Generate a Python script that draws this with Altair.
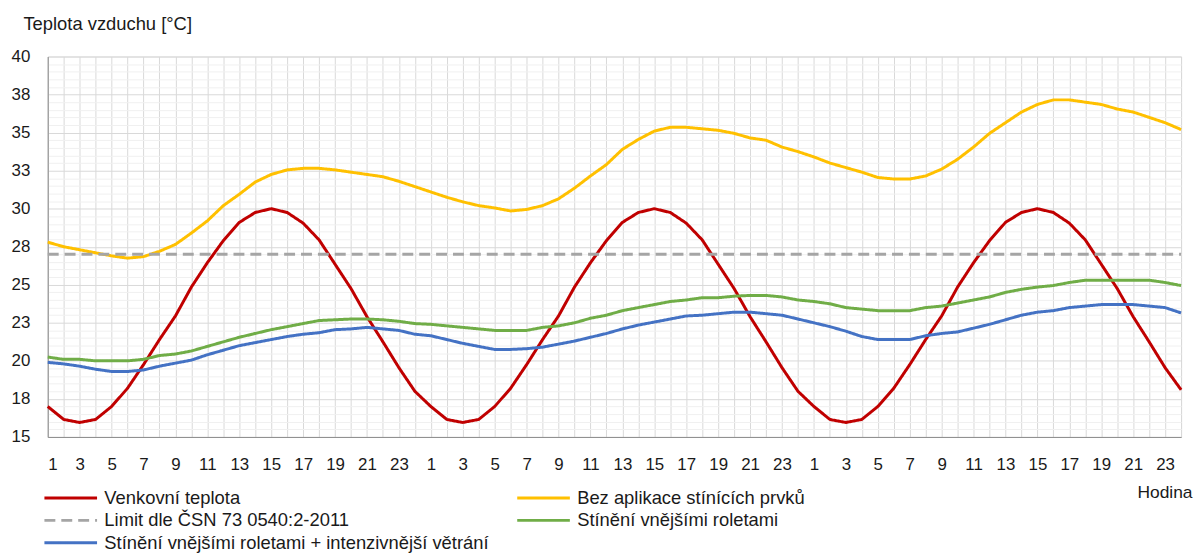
import altair as alt
import pandas as pd

hours = list(range(1, 73))

venkovni = [17.0, 16.15, 15.95, 16.15, 17.0, 18.2, 19.75, 21.4, 22.95, 24.85, 26.45, 27.9,
            29.1, 29.75, 30.0, 29.75, 29.05, 27.95, 26.35, 24.75, 22.9, 21.25, 19.55, 18.0,
            17.0, 16.15, 15.95, 16.15, 17.0, 18.2, 19.75, 21.4, 22.95, 24.85, 26.45, 27.9,
            29.1, 29.75, 30.0, 29.75, 29.05, 27.95, 26.35, 24.75, 22.9, 21.25, 19.55, 18.0,
            17.0, 16.15, 15.95, 16.15, 17.0, 18.2, 19.75, 21.4, 22.95, 24.85, 26.45, 27.9,
            29.1, 29.75, 30.0, 29.75, 29.05, 27.95, 26.35, 24.75, 22.9, 21.25, 19.55, 18.1]

bez_stineni = [27.8, 27.5, 27.3, 27.1, 26.9, 26.75, 26.85, 27.2, 27.65, 28.4, 29.2, 30.2,
               30.95, 31.75, 32.25, 32.55, 32.65, 32.65, 32.55, 32.4, 32.25, 32.1, 31.8, 31.45,
               31.1, 30.75, 30.45, 30.2, 30.05, 29.85, 29.95, 30.2, 30.65, 31.35, 32.15, 32.9,
               33.9, 34.55, 35.1, 35.35, 35.35, 35.25, 35.15, 34.95, 34.65, 34.5, 34.05, 33.75,
               33.4, 33.0, 32.7, 32.4, 32.05, 31.95, 31.95, 32.15, 32.6, 33.25, 34.05, 34.95,
               35.65, 36.35, 36.85, 37.15, 37.15, 37.0, 36.85, 36.55, 36.35, 36.0, 35.65, 35.2]

limit = [27.0] * 72

rolety = [20.25, 20.1, 20.1, 20.0, 20.0, 20.0, 20.1, 20.35, 20.45, 20.65, 20.95, 21.25,
          21.55, 21.8, 22.05, 22.25, 22.45, 22.65, 22.7, 22.75, 22.75, 22.7, 22.6, 22.45,
          22.4, 22.3, 22.2, 22.1, 22.0, 22.0, 22.0, 22.2, 22.3, 22.5, 22.8, 23.0,
          23.3, 23.5, 23.7, 23.9, 24.0, 24.15, 24.15, 24.25, 24.3, 24.3, 24.2, 24.0,
          23.9, 23.75, 23.5, 23.4, 23.3, 23.3, 23.3, 23.5, 23.6, 23.8, 24.0, 24.2,
          24.5, 24.7, 24.85, 24.95, 25.15, 25.3, 25.3, 25.3, 25.3, 25.3, 25.15, 24.95]

rolety_vetrani = [19.9, 19.8, 19.65, 19.45, 19.3, 19.3, 19.4, 19.65, 19.85, 20.05, 20.4, 20.7,
                  21.0, 21.2, 21.4, 21.6, 21.75, 21.85, 22.05, 22.1, 22.2, 22.1, 22.0, 21.75,
                  21.65, 21.4, 21.15, 20.95, 20.75, 20.75, 20.8, 20.9, 21.1, 21.3, 21.55, 21.8,
                  22.1, 22.35, 22.55, 22.75, 22.95, 23.0, 23.1, 23.2, 23.2, 23.1, 23.0, 22.75,
                  22.5, 22.25, 21.95, 21.6, 21.4, 21.4, 21.4, 21.65, 21.8, 21.9, 22.15, 22.4,
                  22.7, 23.0, 23.2, 23.3, 23.5, 23.6, 23.7, 23.7, 23.7, 23.6, 23.5, 23.15]

series_names = [
    "Venkovní teplota",
    "Bez aplikace stínících prvků",
    "Limit dle ČSN 73 0540:2-2011",
    "Stínění vnějšími roletami",
    "Stínění vnějšími roletami + intenzivnější větrání",
]
series_values = [venkovni, bez_stineni, limit, rolety, rolety_vetrani]
colors = ["#C00000", "#FFC000", "#A5A5A5", "#70AD47", "#4472C4"]
dashes = [[1, 0], [1, 0], [11, 6], [1, 0], [1, 0]]
y_grid_values = [15 + 0.5 * k for k in range(51)]

rows = []
for name, vals in zip(series_names, series_values):
    for h, v in zip(hours, vals):
        rows.append({"hodina": h, "teplota": v, "serie": name})
df = pd.DataFrame(rows)

FONT = "Liberation Sans"
TXT = "#1a1a1a"

# legend symbol: a wide horizontal stroke drawn from a small symbol size
SYM_SIZE = 312  # sqrt ~17.7 -> r ~8.83, path spans 0..6r (~53px)


def make_legend():
    return alt.Legend(
        title=None, orient="none", legendX=-5, legendY=434,
        direction="horizontal", columns=2, columnPadding=21, rowPadding=2.5,
        symbolType="M-1,0H5", symbolSize=SYM_SIZE, symbolStrokeWidth=3,
        labelFont=FONT, labelFontSize=18.5, labelColor=TXT,
        labelOffset=41, labelLimit=700,
    )


chart = alt.Chart(df).mark_line(strokeWidth=3).encode(
    x=alt.X("hodina:Q",
            scale=alt.Scale(domain=[1, 72], nice=False, zero=False),
            axis=alt.Axis(
                values=hours,
                labelExpr="(datum.value - 1) % 2 === 0 ? '' + ((datum.value - 1) % 24 + 1) : ''",
                labelOverlap=False,
                ticks=False,
                grid=True,
                gridColor="#D9D9D9",
                domainColor="#8C8C8C",
                labelFont=FONT, labelFontSize=17, labelColor=TXT,
                labelPadding=28, labelBaseline="middle",
                title="Hodina",
                titleFont=FONT, titleFontSize=17.5, titleFontWeight="normal", titleColor=TXT,
                titleAnchor="end", titleAlign="right", titleX=1152, titleY=56,
                titleBaseline="middle",
            )),
    y=alt.Y("teplota:Q",
            scale=alt.Scale(domain=[15, 40], nice=False, zero=False),
            axis=alt.Axis(
                values=y_grid_values,
                labelExpr="datum.value % 2.5 === 0 ? format(datum.value, '.0f') : ''",
                labelOverlap=False,
                ticks=False,
                grid=True,
                gridColor=alt.condition("datum.value % 2.5 === 0", alt.value("#D9D9D9"), alt.value("#F0F0F0")),
                domainColor="#8C8C8C",
                labelFont=FONT, labelFontSize=17, labelColor=TXT,
                labelPadding=18,
                title="Teplota vzduchu [°C]",
                titleFont=FONT, titleFontSize=18.5, titleFontWeight="normal", titleColor=TXT,
                titleAngle=0, titleAlign="left", titleBaseline="middle",
                titleX=-25, titleY=-33,
            )),
    color=alt.Color("serie:N",
                    scale=alt.Scale(domain=series_names, range=colors),
                    legend=make_legend()),
    strokeDash=alt.StrokeDash("serie:N",
                              scale=alt.Scale(domain=series_names, range=dashes),
                              legend=make_legend()),
    order=alt.Order("hodina:Q"),
).properties(
    width=1141,
    height=383,
    autosize=alt.AutoSizeParams(type="none"),
    padding={"left": 40, "top": 47, "right": 12, "bottom": 116},
).configure_view(strokeWidth=0).configure(background="white")

chart.save("out.html", embed_options={"renderer": "svg", "actions": False})
